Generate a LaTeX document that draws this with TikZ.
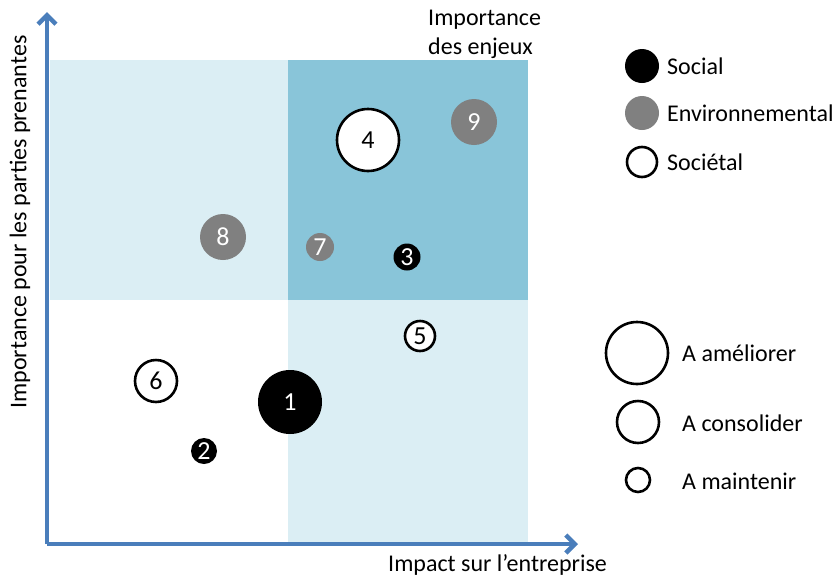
\documentclass[tikz,border=0pt]{standalone}
\usepackage{fontspec}
\setmainfont{Carlito}
\usetikzlibrary{arrows.meta,positioning}
\definecolor{axe}{RGB}{74,126,187}
\definecolor{clair}{RGB}{219,238,244}
\definecolor{fonce}{RGB}{137,197,217}
\definecolor{gris}{RGB}{128,128,128}
\tikzset{
  enjeu/.style={circle,inner sep=0pt,font=\fontsize{26}{30}\selectfont},
  social/.style={enjeu,fill=black,text=white},
  envir/.style={enjeu,fill=gris,text=white},
  societal/.style={enjeu,draw=black,fill=white,line width=2.6pt},
  legende/.style={anchor=west,inner sep=0pt,font=\fontsize{24}{29}\selectfont},
  axe/.style={draw=axe,line width=4.5pt,-{Straight Barb[length=9pt,width=18pt,line width=4.5pt]}}
}
\begin{document}
\begin{tikzpicture}[x=1pt,y=-1pt]
\useasboundingbox (0,0) rectangle (835,576);

% quadrants
\fill[clair] (50,60) rectangle (288,300);
\fill[fonce] (288,60) rectangle (528,300);
\fill[clair] (288,300) rectangle (528,543);

% axes
\coordinate (O) at (47,544);
\coordinate (Ytip) at (47,12);
\coordinate (Xtip) at (578,544);
\draw[axe] (O) -- (Ytip);
\draw[axe] (O) -- (Xtip);

\node[legende] (xlab) at (388,565) {Impact sur l’entreprise};
\node[rotate=90,inner sep=0pt,font=\fontsize{24}{29}\selectfont] (ylab) at (20,222) {Importance pour les parties prenantes};
\node[legende,align=left] (enjeux) at (428,34) {Importance\\des enjeux};

% enjeux
\node[social,minimum size=64pt] (e1) at (290,402) {1};
\node[social,minimum size=26pt] (e2) at (204,451) {2};
\node[social,minimum size=27pt] (e3) at (407,257) {3};
\node[societal,minimum size=62pt] (e4) at (368,140) {4};
\node[societal,minimum size=30pt] (e5) at (420,336) {5};
\node[societal,minimum size=42pt] (e6) at (156,381) {6};
\node[envir,minimum size=28pt] (e7) at (320,247) {7};
\node[envir,minimum size=46pt] (e8) at (223,237) {8};
\node[envir,minimum size=46pt] (e9) at (474,122) {9};

% legende
\node[social,minimum size=34pt] (lsoc) at (642,66) {};
\node[envir,minimum size=34pt] (lenv) at (642,113) {};
\node[societal,minimum size=30pt] (lsct) at (642,162) {};
\node[legende] (tsoc) at (667,66) {Social};
\node[legende] (tenv) at (667,113) {Environnemental};
\node[legende] (tsct) at (667,162) {Sociétal};

\node[societal,minimum size=62pt] (lame) at (637,353) {};
\node[societal,minimum size=42pt] (lcon) at (638,422) {};
\node[societal,minimum size=24pt] (lmai) at (638,480) {};
\node[legende] (tame) at (682,353) {A améliorer};
\node[legende] (tcon) at (682,423) {A consolider};
\node[legende] (tmai) at (682,481) {A maintenir};
\end{tikzpicture}
\end{document}
